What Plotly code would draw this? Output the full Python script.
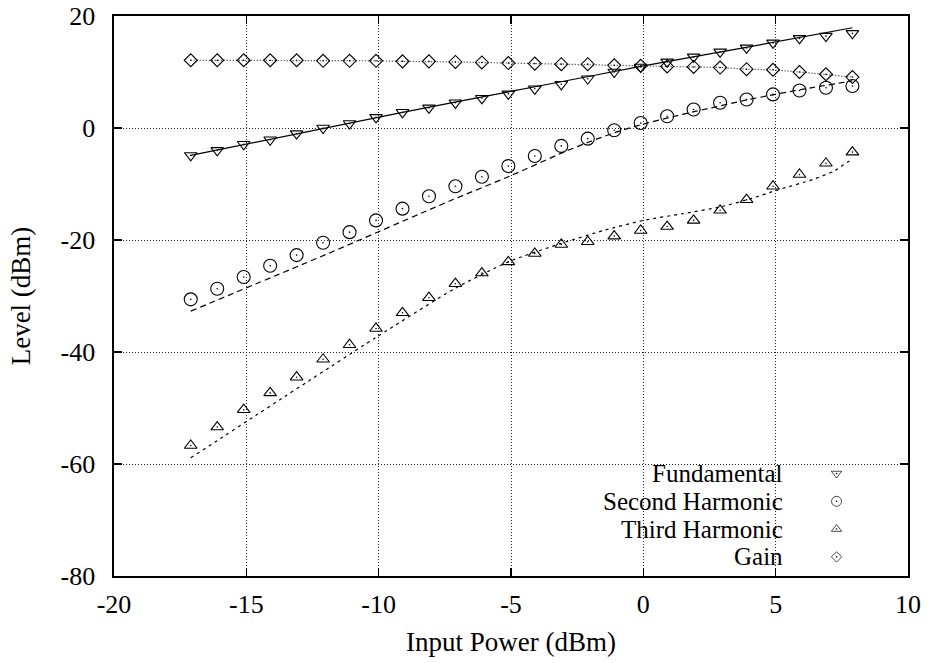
import plotly.graph_objects as go

# ---------------- data ----------------
input_power = [-17.1, -16.1, -15.1, -14.1, -13.1, -12.1, -11.1, -10.1, -9.1, -8.1,
               -7.1, -6.1, -5.1, -4.1, -3.1, -2.1, -1.1, -0.1, 0.9, 1.9,
               2.9, 3.9, 4.9, 5.9, 6.9, 7.9]

fundamental = [-4.9, -4.0, -2.9, -2.1, -1.0, 0.0, 0.8, 1.9, 2.8, 3.6,
               4.5, 5.3, 6.1, 7.0, 7.8, 8.8, 10.0, 10.9, 11.8, 12.7,
               13.6, 14.3, 15.2, 16.0, 16.4, 16.9]

second_harmonic = [-30.6, -28.7, -26.6, -24.6, -22.7, -20.5, -18.6, -16.5, -14.4, -12.2,
                   -10.4, -8.7, -6.8, -5.0, -3.2, -1.9, -0.4, 0.9, 2.1, 3.3,
                   4.5, 5.1, 6.0, 6.7, 7.2, 7.5]

third_harmonic = [-56.7, -53.4, -50.3, -47.3, -44.5, -41.3, -38.7, -35.8, -33.0, -30.3,
                  -27.8, -25.9, -23.9, -22.4, -20.8, -20.3, -19.3, -18.3, -17.6, -16.5,
                  -14.7, -12.8, -10.4, -8.3, -6.3, -4.3]

gain = [12.1, 12.1, 12.1, 12.1, 12.1, 12.0, 12.0, 12.0, 11.9, 11.9,
        11.8, 11.7, 11.6, 11.5, 11.4, 11.4, 11.2, 11.1, 11.0, 10.9,
        10.8, 10.5, 10.4, 10.0, 9.6, 9.1]

# model (fitted) curves
fund_fit_x = [-17.1, -9.1, -3.5, -0.1, 3.3, 7.9]
fund_fit_y = [-4.9, 2.8, 7.9, 11.0, 13.9, 17.9]

second_fit_x = [-17.1, -12.0, -7.3, -5.0, -3.0, -2.0, -1.0, 0.0, 1.0, 2.0, 4.0, 6.0, 7.9]
second_fit_y = [-32.7, -22.6, -13.0, -8.5, -4.3, -2.4, -0.7, 0.7, 1.9, 3.0, 5.1, 6.9, 8.4]

third_fit_x = [-17.1, -10.1, -7.1, -5.1, -3.1, -1.5, 0.0, 1.5, 2.9, 4.0, 5.05, 6.4, 7.2, 7.9]
third_fit_y = [-58.9, -37.4, -28.6, -23.9, -20.6, -18.3, -16.5, -15.3, -14.1, -12.7, -11.1, -9.2, -7.7, -5.5]

series_names = ["Fundamental", "Second Harmonic", "Third Harmonic", "Gain"]
x_ticks = [-20, -15, -10, -5, 0, 5, 10]
y_ticks = [-80, -60, -40, -20, 0, 20]

# ---------------- styling ----------------
FONT = "Liberation Serif"
INK = "black"
symbols = ["triangle-down-open", "circle-open", "triangle-up-open", "diamond-open"]
msizes = [11, 13, 11, 10]
series_values = [fundamental, second_harmonic, third_harmonic, gain]

fig = go.Figure()

# fitted curves
fig.add_trace(go.Scatter(x=fund_fit_x, y=fund_fit_y, mode="lines",
                         line=dict(color=INK, width=1.2, shape="spline", smoothing=0.6),
                         showlegend=False, hoverinfo="skip"))
fig.add_trace(go.Scatter(x=second_fit_x, y=second_fit_y, mode="lines",
                         line=dict(color=INK, width=1.2, dash="6px,4px", shape="spline", smoothing=0.6),
                         showlegend=False, hoverinfo="skip"))
fig.add_trace(go.Scatter(x=third_fit_x, y=third_fit_y, mode="lines",
                         line=dict(color=INK, width=1.2, dash="3px,4px", shape="spline", smoothing=0.6),
                         showlegend=False, hoverinfo="skip"))
# gain joined by dotted line
fig.add_trace(go.Scatter(x=input_power, y=gain, mode="lines",
                         line=dict(color="#222222", width=1.2, dash="1px,2px"),
                         showlegend=False, hoverinfo="skip"))

# measured points
for name, vals, sym, ms in zip(series_names, series_values, symbols, msizes):
    fig.add_trace(go.Scatter(x=input_power, y=vals, mode="markers", name=name,
                             marker=dict(symbol=sym, size=ms, color=INK,
                                         line=dict(color=INK, width=1.1)),
                             showlegend=False))
    fig.add_trace(go.Scatter(x=input_power, y=vals, mode="markers",
                             marker=dict(symbol="circle", size=1.6, color=INK, line=dict(width=0)),
                             showlegend=False, hoverinfo="skip"))

# ---------------- gnuplot-style key (text right, symbol right of it) ----------------
key_top = 0.183
key_step = 0.0496
key_text_x = 0.844
key_sym_x = 0.910
key_rows = [key_top - i * key_step for i in range(len(series_names))]

fig.add_trace(go.Scatter(x=[key_sym_x] * len(series_names), y=key_rows, mode="markers",
                         xaxis="x2", yaxis="y2",
                         marker=dict(symbol=symbols, size=[9, 10, 9, 8], color=INK,
                                     line=dict(color=INK, width=1.0)),
                         showlegend=False, hoverinfo="skip"))
fig.add_trace(go.Scatter(x=[key_sym_x] * len(series_names), y=key_rows, mode="markers",
                         xaxis="x2", yaxis="y2",
                         marker=dict(symbol="circle", size=1.6, color=INK),
                         showlegend=False, hoverinfo="skip"))

annotations = []
for name, yy in zip(series_names, key_rows):
    annotations.append(dict(x=key_text_x, y=yy, xref="paper", yref="paper",
                            text=name, showarrow=False, xanchor="right", yanchor="middle",
                            borderpad=0,
                            font=dict(family=FONT, size=25, color=INK)))

# white box behind the key hides the grid there
shapes = [dict(type="rect", xref="paper", yref="paper", x0=0.543, x1=0.981, y0=0.0, y1=0.206,
               fillcolor="white", line=dict(width=0), layer="between")]

axis_common = dict(
    showline=True, linecolor=INK, linewidth=1.6, mirror="ticks",
    ticks="inside", ticklen=8, tickwidth=1.3, tickcolor=INK,
    showgrid=True, gridcolor="#222222", gridwidth=1, griddash="1px,2px",
    zeroline=False, automargin=False,
    tickfont=dict(family=FONT, size=26, color=INK),
)

fig.update_layout(
    width=929, height=663,
    font=dict(family=FONT, color=INK),
    paper_bgcolor="white", plot_bgcolor="white",
    margin=dict(l=114, r=21, t=16, b=87, autoexpand=False),
    showlegend=False,
    xaxis=dict(range=[-20, 10], tickvals=x_ticks, ticktext=[str(v) for v in x_ticks],
               ticklabelstandoff=4,
               title=dict(text="Input Power (dBm)", font=dict(family=FONT, size=27, color=INK), standoff=14),
               **axis_common),
    yaxis=dict(range=[-80, 20], tickvals=y_ticks, ticktext=[str(v) for v in y_ticks],
               ticklabelstandoff=12,
               title=dict(text="Level (dBm)", font=dict(family=FONT, size=27, color=INK), standoff=22),
               **axis_common),
    xaxis2=dict(overlaying="x", range=[0, 1], visible=False, fixedrange=True),
    yaxis2=dict(overlaying="y", range=[0, 1], visible=False, fixedrange=True),
    annotations=annotations,
    shapes=shapes,
)

fig.write_html("out.html",
               config={"displayModeBar": False, "staticPlot": True},
               post_script="document.body.style.margin='0';document.body.style.padding='0';")
